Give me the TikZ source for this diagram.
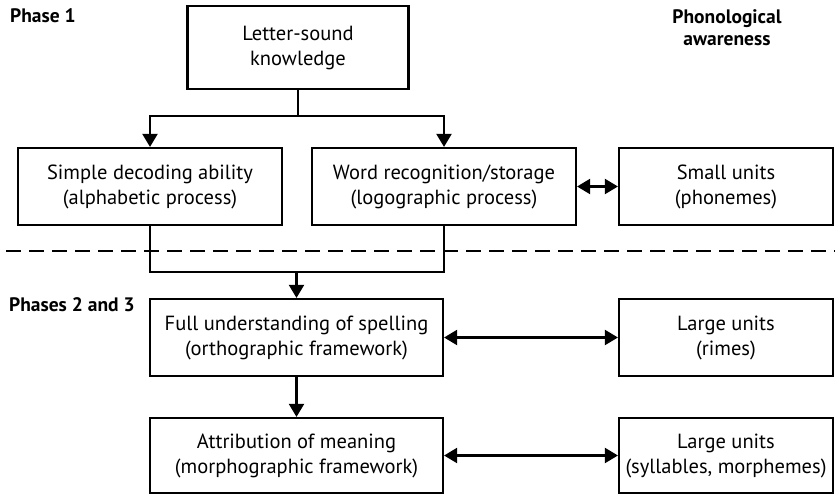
\documentclass[tikz,border=0pt]{standalone}
\usepackage{fontspec}
\setmainfont{PT Sans}
\usetikzlibrary{arrows.meta}
\begin{document}
\begin{tikzpicture}[x=1pt,y=-1pt,line width=2.2pt,
  box/.style={draw,align=center,inner sep=0pt,minimum height=77pt,font=\fontsize{20.5}{25}\selectfont},
  tip/.style={-{Triangle[length=13pt,width=15pt]}},
  both/.style={{Triangle[length=13pt,width=15pt]}-{Triangle[length=13pt,width=15pt]}},
  phase/.style={font=\fontsize{19.5}{22}\selectfont\bfseries,align=center,inner sep=0pt}]
\useasboundingbox (0,0) rectangle (835,495);
\node[phase,anchor=west] (p1) at (9,16) {Phase 1};
\node[phase,anchor=west] (p23) at (8,305) {Phases 2 and 3};
\node[phase] (pa) at (727,28) {Phonological\\awareness};
\node[box,minimum width=221pt,minimum height=83pt] (ls) at (298,47.5) {Letter-sound\\knowledge};
\node[box,minimum width=264pt] (dec) at (150,186.5) {Simple decoding ability\\(alphabetic process)};
\node[box,minimum width=264pt] (word) at (444,186.5) {Word recognition/storage\\(logographic process)};
\node[box,minimum width=214pt] (small) at (726,186.5) {Small units\\(phonemes)};
\node[box,minimum width=293pt] (full) at (296.5,337.5) {Full understanding of spelling\\(orthographic framework)};
\node[box,minimum width=214pt] (rimes) at (726,337.5) {Large units\\(rimes)};
\node[box,minimum width=293pt,minimum height=75pt] (mean) at (296.5,455.5) {Attribution of meaning\\(morphographic framework)};
\node[box,minimum width=214pt,minimum height=75pt] (syl) at (726,455.5) {Large units\\(syllables, morphemes)};
\coordinate (split) at (298,116);
\coordinate (merge) at (296.5,272);
\draw (ls.south) -- (split);
\draw[tip] (split) -| (dec.north);
\draw[tip] (split) -| (word.north);
\draw[both] (word) -- (small);
\draw[dashed,dash pattern=on 15pt off 8pt] (6,251) -- (835,251);
\draw (dec.south) |- (merge);
\draw (word.south) |- (merge);
\draw[tip] (merge) -- (full.north);
\draw[both] (full) -- (rimes);
\draw[tip] (full) -- (mean);
\draw[both] (mean) -- (syl);
\end{tikzpicture}
\end{document}
